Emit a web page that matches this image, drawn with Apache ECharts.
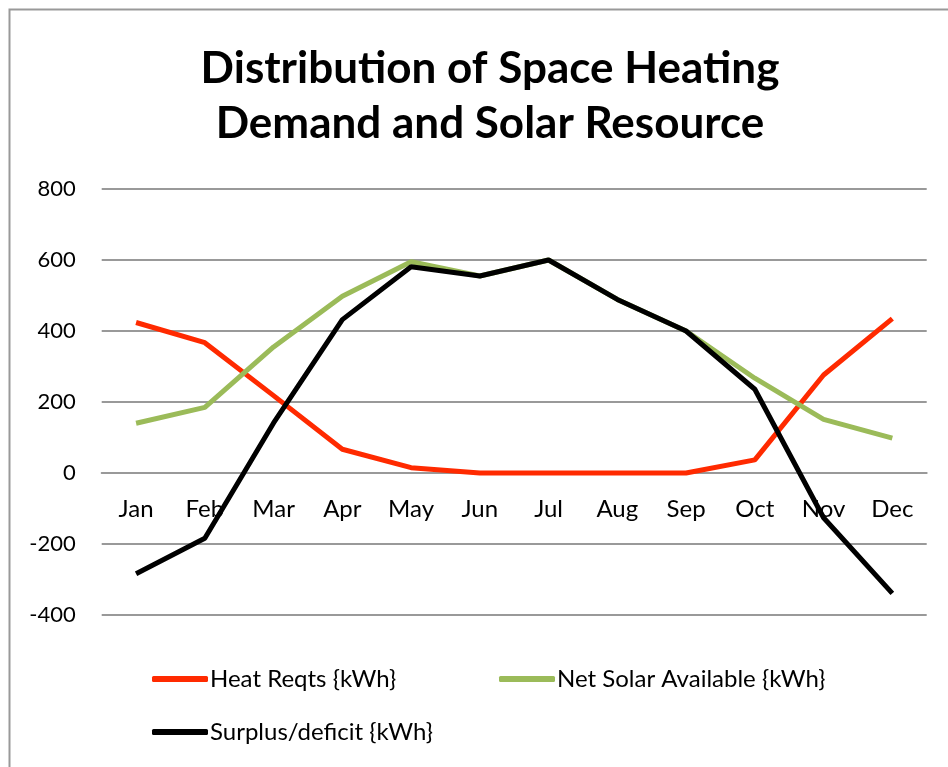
<!DOCTYPE html>
<html>
<head>
<meta charset="utf-8">
<script src="https://cdn.jsdelivr.net/npm/echarts@6/dist/echarts.min.js"></script>
<style>
  html, body { margin: 0; padding: 0; background: #fff; }
  #chart { width: 948px; height: 767px; }
</style>
</head>
<body>
<div id="chart"></div>
<script>
const months = ['Jan', 'Feb', 'Mar', 'Apr', 'May', 'Jun', 'Jul', 'Aug', 'Sep', 'Oct', 'Nov', 'Dec'];
const heatReqts = [424, 367, 218, 67, 15, 0, 0, 0, 0, 37, 276, 435];
const netSolar = [140, 185, 355, 498, 595, 555, 600, 489, 400, 267, 151, 98];
const surplus = [-284, -184, 141, 432, 581, 555, 600, 489, 400, 236, -126, -339];
const yTicks = { min: -400, max: 800, interval: 200 };

const FONT = 'Lato';
const gridTop = 189, gridBottom = 152, H = 767;
const plotH = H - gridTop - gridBottom;
const zeroOffset = -plotH * (0 - yTicks.min) / (yTicks.max - yTicks.min);

const chart = echarts.init(document.getElementById('chart'));
chart.setOption({
  backgroundColor: '#fff',
  animation: false,
  title: {
    text: 'Distribution of Space Heating\nDemand and Solar Resource',
    left: 485,
    textAlign: 'center',
    top: 36,
    textStyle: { fontFamily: FONT, fontWeight: 'bold', fontSize: 44, lineHeight: 55, color: '#000' }
  },
  graphic: [{
    type: 'rect',
    shape: { x: 9.5, y: 9.5, width: 1000, height: 1000 },
    style: { fill: 'none', stroke: '#999', lineWidth: 2 },
    silent: true
  }],
  legend: [
    { data: ['Heat Reqts {kWh}'], left: 147, top: 662 },
    { data: ['Net Solar Available {kWh}'], left: 494, top: 662 },
    { data: ['Surplus/deficit {kWh}'], left: 147, top: 715 }
  ].map(l => Object.assign(l, {
    orient: 'horizontal',
    icon: 'roundRect',
    itemWidth: 56,
    itemHeight: 6,
    itemGap: 4,
    textStyle: { fontFamily: FONT, fontSize: 24, color: '#000', padding: [0, 0, 0, -3] }
  })),
  grid: { left: 101.7, right: 21.3, top: gridTop, bottom: gridBottom, containLabel: false },
  xAxis: {
    type: 'category',
    data: months,
    boundaryGap: true,
    offset: zeroOffset,
    axisLine: { onZero: false, lineStyle: { color: '#999', width: 2 } },
    axisTick: { show: false },
    axisLabel: { fontFamily: FONT, fontSize: 24, color: '#000', margin: 24 }
  },
  yAxis: {
    type: 'value',
    min: yTicks.min,
    max: yTicks.max,
    interval: yTicks.interval,
    axisLine: { show: false },
    axisTick: { show: false },
    splitLine: { lineStyle: { color: '#999', width: 2 } },
    axisLabel: { fontFamily: FONT, fontSize: 22, color: '#000', margin: 26 }
  },
  series: [
    { name: 'Heat Reqts {kWh}', type: 'line', data: heatReqts, symbol: 'none',
      lineStyle: { color: '#FF2A00', width: 5 }, itemStyle: { color: '#FF2A00' }, z: 2 },
    { name: 'Net Solar Available {kWh}', type: 'line', data: netSolar, symbol: 'none',
      lineStyle: { color: '#9BBB59', width: 5 }, itemStyle: { color: '#9BBB59' }, z: 3 },
    { name: 'Surplus/deficit {kWh}', type: 'line', data: surplus, symbol: 'none',
      lineStyle: { color: '#000', width: 5 }, itemStyle: { color: '#000' }, z: 4 }
  ]
});
</script>
</body>
</html>
